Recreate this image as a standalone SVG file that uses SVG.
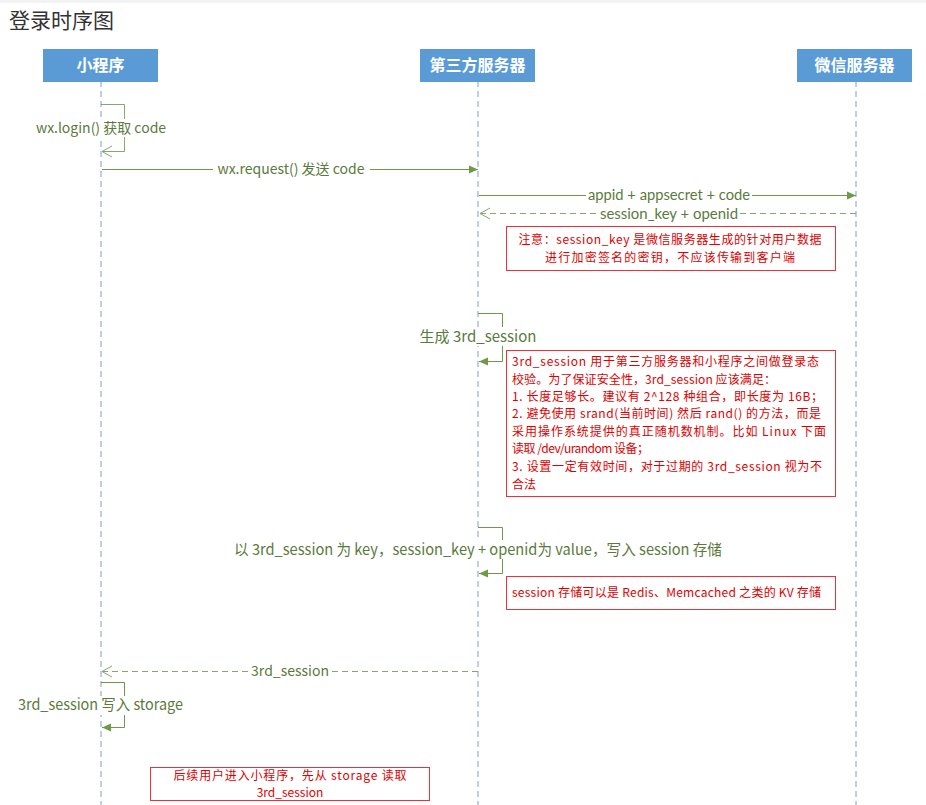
<svg xmlns="http://www.w3.org/2000/svg" width="926" height="805" viewBox="0 0 926 805">
<defs>
<style>
text{font-family:"Noto Sans CJK SC","Microsoft YaHei",sans-serif}
.title{font-size:21px;fill:#333}
.hdr{fill:#5b9bd5}
.hdrt{font-size:16px;font-weight:bold;fill:#fff;text-anchor:middle}
.life{stroke:#7f9fc8;stroke-width:1;stroke-dasharray:6 4;fill:none}
.msg{stroke:#6c9a46;stroke-width:1;fill:none}
.ret{stroke:#8aa36f;stroke-width:1;stroke-dasharray:6 4;fill:none}
.lbl{font-size:14px;fill:#5a7a3c;text-anchor:middle}
.lat{font-family:Lato,"Noto Sans",sans-serif;font-size:14.5px;fill:#5a7a3c;text-anchor:middle}
.lbl2{font-size:15px;fill:#5a7a3c;text-anchor:middle}
.bg{fill:#fff}
.note{fill:#fff;stroke:#e8323c;stroke-width:1}
.nt{font-size:12px;fill:#e00000}
.ntc{font-size:12px;fill:#e00000;text-anchor:middle}
</style>
<marker id="fill" markerWidth="10" markerHeight="10" refX="9" refY="5" orient="auto" markerUnits="userSpaceOnUse">
<path d="M0,1 L9,5 L0,9 Z" fill="#6c9a46"/>
</marker>
</defs>
<rect x="0" y="0" width="926" height="805" fill="#fff"/>
<rect x="0" y="0" width="926" height="3" fill="#f3f3f3"/>
<text class="title" x="9" y="28">登录时序图</text>

<g id="lifelines">
<line class="life" x1="101" y1="81" x2="101" y2="805"/>
<line class="life" x1="478" y1="81" x2="478" y2="805"/>
<line class="life" x1="856" y1="81" x2="856" y2="805"/>
</g>

<g id="node-miniprogram">
<rect class="hdr" x="43" y="49" width="115" height="33"/>
<text class="hdrt" x="100.5" y="71">小程序</text>
</g>
<g id="node-thirdserver">
<rect class="hdr" x="420" y="49" width="115" height="33"/>
<text class="hdrt" x="477.5" y="71">第三方服务器</text>
</g>
<g id="node-wxserver">
<rect class="hdr" x="797" y="49" width="115" height="33"/>
<text class="hdrt" x="854.5" y="71">微信服务器</text>
</g>

<g id="connectors">
<!-- wx.login self loop -->
<path d="M101,104.5 H124.5 V151.5 H102" style="stroke:#8aa36f;stroke-width:1;fill:none"/>
<path d="M112,146 L102,151.5 L112,157" fill="none" stroke="#8aa36f" stroke-width="1"/>
<rect class="bg" x="32" y="119" width="138" height="18"/>
<text class="lbl" x="101" y="133">wx.login() 获取 code</text>

<!-- wx.request -->
<line class="msg" x1="102" y1="169.5" x2="478" y2="169.5" marker-end="url(#fill)"/>
<rect class="bg" x="213" y="161" width="157" height="17"/>
<text class="lbl" x="291" y="174">wx.request() 发送 code</text>

<!-- appid -->
<line class="msg" x1="479" y1="195.5" x2="856" y2="195.5" marker-end="url(#fill)"/>
<rect class="bg" x="586" y="188" width="166" height="15"/>
<text class="lat" x="669" y="200" textLength="162" lengthAdjust="spacingAndGlyphs">appid + appsecret + code</text>

<!-- session_key return -->
<line class="ret" x1="856" y1="213.5" x2="480" y2="213.5"/>
<path d="M490,208 L480,213.5 L490,219" fill="none" stroke="#8aa36f" stroke-width="1"/>
<rect class="bg" x="598" y="206" width="142" height="15"/>
<text class="lat" x="669" y="218.5" textLength="138" lengthAdjust="spacingAndGlyphs">session_key + openid</text>

<!-- generate 3rd_session -->
<path d="M478,313.5 H502.5 V361.5 H479" class="msg" marker-end="url(#fill)"/>
<rect class="bg" x="420" y="327" width="118" height="19"/>
<text class="lbl2" x="478" y="342">生成 3rd_session</text>

<!-- store session -->
<path d="M478,527.5 H502.5 V573.5 H479" class="msg" marker-end="url(#fill)"/>
<rect class="bg" x="232" y="540" width="492" height="19"/>
<text class="lbl2" x="478" y="555" textLength="488" lengthAdjust="spacingAndGlyphs">以 3rd_session 为 key，session_key + openid为 value，写入 session 存储</text>

<!-- 3rd_session return -->
<line class="ret" x1="478" y1="671.5" x2="102" y2="671.5"/>
<path d="M112,666 L102,671.5 L112,677" fill="none" stroke="#8aa36f" stroke-width="1"/>
<rect class="bg" x="249" y="663" width="82" height="17"/>
<text class="lbl" x="290" y="676">3rd_session</text>

<!-- write storage -->
<path d="M101,682.5 H124.5 V727.5 H102" class="msg" marker-end="url(#fill)"/>
<rect class="bg" x="16" y="696" width="170" height="19"/>
<text class="lbl2" x="100.5" y="710" textLength="165" lengthAdjust="spacingAndGlyphs">3rd_session 写入 storage</text>
</g>

<g id="note-session-key">
<rect class="note" x="506.5" y="226.5" width="329" height="44"/>
<text class="ntc" x="670" y="244" textLength="303" lengthAdjust="spacing">注意：session_key 是微信服务器生成的针对用户数据</text>
<text class="ntc" x="670" y="262" textLength="250" lengthAdjust="spacing">进行加密签名的密钥，不应该传输到客户端</text>
</g>

<g id="note-3rd-session">
<rect class="note" x="506.5" y="350.5" width="329" height="146"/>
<text class="nt" x="512" y="366" textLength="307" lengthAdjust="spacing">3rd_session 用于第三方服务器和小程序之间做登录态</text>
<text class="nt" x="512" y="384" textLength="264" lengthAdjust="spacing">校验。为了保证安全性，3rd_session 应该满足：</text>
<text class="nt" x="512" y="401" textLength="311" lengthAdjust="spacing">1. 长度足够长。建议有 2^128 种组合，即长度为 16B；</text>
<text class="nt" x="512" y="418" textLength="309" lengthAdjust="spacing">2. 避免使用 srand(当前时间) 然后 rand() 的方法，而是</text>
<text class="nt" x="512" y="436" textLength="314" lengthAdjust="spacing">采用操作系统提供的真正随机数机制。比如 Linux 下面</text>
<text class="nt" x="512" y="453" textLength="137" lengthAdjust="spacing">读取 /dev/urandom 设备；</text>
<text class="nt" x="512" y="471" textLength="310" lengthAdjust="spacing">3. 设置一定有效时间，对于过期的 3rd_session 视为不</text>
<text class="nt" x="512" y="489">合法</text>
</g>

<g id="note-kv">
<rect class="note" x="506.5" y="576.5" width="329" height="33"/>
<text class="nt" x="512" y="597" textLength="309" lengthAdjust="spacing">session 存储可以是 Redis、Memcached 之类的 KV 存储</text>
</g>

<g id="note-storage">
<rect class="note" x="150.5" y="767.5" width="279" height="33"/>
<text class="ntc" x="290" y="780" textLength="233" lengthAdjust="spacing">后续用户进入小程序，先从 storage 读取</text>
<text class="ntc" x="290" y="797">3rd_session</text>
</g>
</svg>
